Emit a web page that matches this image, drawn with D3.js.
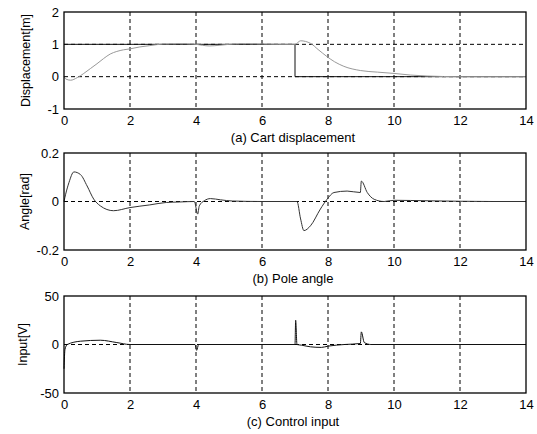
<!DOCTYPE html>
<html><head><meta charset="utf-8">
<script src="https://cdn.jsdelivr.net/npm/d3@7"></script>
<style>body{margin:0;background:#fff}svg{display:block}text{font-family:"Liberation Sans",Arial,sans-serif;fill:#000}</style>
</head><body><svg id="c" width="537" height="434"></svg>
<script>
const xTicks = [0,2,4,6,8,10,12,14];
// Panel (a) cart displacement: reference and response
const dispRefT = [0,7,7,14];
const dispRefV = [1,1,0,0];
const dispT = [0,0.05,0.2,0.4,0.6,0.8,1.0,1.2,1.4,1.6,1.8,2.0,2.3,2.6,3.0,3.5,4.0,4.2,4.4,4.7,5.0,5.5,6.0,6.5,7.0,7.17,7.47,7.7,7.97,8.2,8.48,8.98,9.5,10,10.5,11,11.5,12,13,14];
const dispV = [0,-0.07,-0.11,-0.03,0.1,0.25,0.4,0.56,0.7,0.78,0.83,0.86,0.92,0.96,1.01,1.02,1.0,0.97,0.95,0.97,1.0,1.02,1.01,1.0,1.0,1.11,1.03,0.84,0.62,0.46,0.32,0.19,0.14,0.1,0.05,0.02,0.005,0,0,0];
// Panel (b) pole angle
const angT = [0,0.05,0.15,0.3,0.5,0.7,0.9,1.1,1.5,2.0,2.6,3.1,3.5,3.95,4.05,4.1,4.25,4.44,4.74,5.1,6,7.0,7.06,7.17,7.27,7.47,7.77,7.97,8.18,8.58,8.98,9.01,9.19,9.4,9.7,10,11,12,13,14];
const angV = [0,0.03,0.078,0.122,0.111,0.064,0.01,-0.018,-0.038,-0.025,-0.014,-0.004,-0.002,0,-0.052,-0.018,0.003,0.012,0.007,0.002,0,0,0,-0.072,-0.12,-0.1,-0.031,0.009,0.037,0.043,0.037,0.084,0.037,0.009,0,0.005,0.003,0.001,0,0];
// Panel (c) control input
const inpT = [0,0.03,0.1,0.5,1.1,1.6,2.0,3.0,3.97,4.02,4.08,5,6,7.0,7.02,7.06,7.2,7.47,7.8,8.0,8.5,8.98,9.01,9.1,9.3,10,11,12,13,14];
const inpV = [-25,-5,0,3.4,4.4,2,0,0,0,-6,0,0,0,0,25,0,-0.7,-2.4,-3,-1.7,0,1,13,2,0,0,0,0,0,0];

const panels = [
  {top:12,bottom:109,domain:[-1,2],yTicks:[-1,0,1,2],yFmt:d=>String(d),ylabel:"Displacement[m]",ylx:26,caption:"(a) Cart displacement",
   lines:[{t:dispRefT,v:dispRefV,color:"#111",w:1,curve:d3.curveLinear},{t:dispT,v:dispV,color:"#999",w:1,curve:d3.curveMonotoneX}]},
  {top:153,bottom:250,domain:[-0.2,0.2],yTicks:[-0.2,0,0.2],yFmt:d=>d===0?"0":d.toFixed(1),ylabel:"Angle[rad]",ylx:25,caption:"(b) Pole angle",
   lines:[{t:angT,v:angV,color:"#333",w:1,curve:d3.curveMonotoneX}]},
  {top:296,bottom:393,domain:[-50,50],yTicks:[-50,0,50],yFmt:d=>String(d),ylabel:"Input[V]",ylx:23,caption:"(c) Control input",
   lines:[{t:inpT,v:inpV,color:"#111",w:1,curve:d3.curveMonotoneX}]}
];
const left=64,right=526;
const svg=d3.select("#c");
const x=d3.scaleLinear().domain([0,14]).range([left,right]);
const FF="Liberation Sans, Arial, sans-serif";
panels.forEach(p=>{
  const y=d3.scaleLinear().domain(p.domain).range([p.bottom,p.top]);
  const g=svg.append("g");
  g.selectAll(".gx").data(xTicks.slice(1,-1)).enter().append("line")
    .attr("x1",d=>x(d)).attr("x2",d=>x(d)).attr("y1",p.top).attr("y2",p.bottom)
    .attr("stroke","#000").attr("stroke-width",1).attr("stroke-dasharray","4,3");
  g.selectAll(".gy").data(p.yTicks.slice(1,-1)).enter().append("line")
    .attr("x1",left).attr("x2",right).attr("y1",d=>y(d)).attr("y2",d=>y(d))
    .attr("stroke","#000").attr("stroke-width",1).attr("stroke-dasharray","4,3");
  p.lines.forEach(L=>{
    const pts=L.t.map((t,i)=>[t,L.v[i]]);
    g.append("path").datum(pts)
      .attr("d",d3.line().x(d=>x(d[0])).y(d=>y(d[1])).curve(L.curve))
      .attr("fill","none").attr("stroke",L.color).attr("stroke-width",L.w);
  });
  g.append("rect").attr("x",left).attr("y",p.top).attr("width",right-left).attr("height",p.bottom-p.top)
    .attr("fill","none").attr("stroke","#000").attr("stroke-width",1.3);
  const xa=d3.axisBottom(x).tickValues(xTicks).tickSize(0).tickPadding(7).tickFormat(d=>String(d));
  const ax=g.append("g").attr("transform",`translate(0,${p.bottom})`).call(xa);
  ax.select(".domain").remove();
  ax.selectAll("text").attr("font-size",13).style("font-family",FF);
  const ya=d3.axisLeft(y).tickValues(p.yTicks).tickSize(0).tickPadding(5).tickFormat(p.yFmt);
  const ay=g.append("g").attr("transform",`translate(${left},0)`).call(ya);
  ay.select(".domain").remove();
  ay.selectAll("text").attr("font-size",13).style("font-family",FF);
  g.append("text").attr("transform",`translate(${p.ylx+4},${(p.top+p.bottom)/2}) rotate(-90)`)
    .attr("text-anchor","middle").attr("font-size",12.5).text(p.ylabel);
  g.append("text").attr("x",293).attr("y",p.bottom+33).attr("text-anchor","middle").attr("font-size",13).text(p.caption);
});
</script></body></html>
